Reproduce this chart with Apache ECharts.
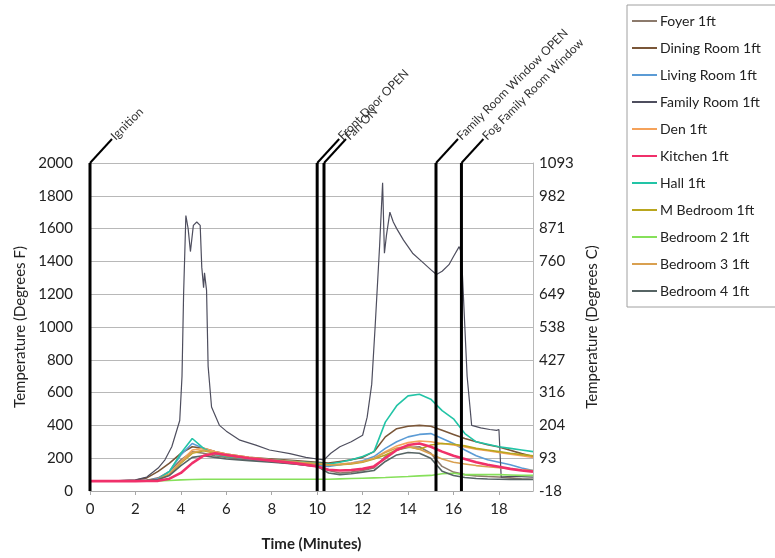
<!DOCTYPE html>
<html>
<head>
<meta charset="utf-8">
<script src="https://cdn.jsdelivr.net/npm/echarts@6/dist/echarts.min.js"></script>
<style>html,body{margin:0;padding:0;background:#fff;}#c{width:775px;height:558px;}</style>
</head>
<body>
<div id="c"></div>
<script>
// ---------- DATA ----------
const minutes = [0,1,2,2.5,3,3.5,4,4.5,5,5.5,6,7,8,9,10,10.5,11,11.5,12,12.5,13,13.5,14,14.5,15,15.5,16,16.5,17,17.5,18,18.5,19,19.5];

const foyer     = [60,60,62,65,80,120,190,240,230,215,205,190,180,165,150,125,110,115,125,140,210,250,265,270,230,150,115,100,92,88,85,80,75,72];
const dining    = [60,60,65,80,120,170,230,270,260,240,225,205,195,185,175,170,180,190,205,240,330,380,395,400,395,370,345,320,300,282,268,248,228,210];
const living    = [60,60,62,65,75,120,220,290,260,230,215,195,180,170,155,150,160,170,185,210,260,300,330,345,350,320,290,250,215,190,175,160,140,125];
const den       = [60,60,62,64,70,100,180,250,260,240,225,205,190,180,165,160,165,170,180,200,240,275,295,305,300,290,280,268,255,245,235,225,215,205];
const kitchen   = [60,60,60,61,62,75,110,170,215,230,220,200,185,170,150,130,125,128,135,150,200,250,280,290,270,240,215,195,175,160,148,135,125,118];
const hall      = [60,60,62,64,70,120,230,320,260,225,210,200,190,180,170,165,175,190,210,240,420,520,580,590,560,490,440,350,300,285,270,260,250,240];
const mBedroom  = [60,60,62,64,68,100,170,230,245,230,215,200,185,175,165,160,160,165,175,195,220,250,270,255,280,290,285,275,260,250,240,230,222,215];
const bedroom2  = [60,60,60,61,62,64,68,70,72,72,72,72,72,72,72,72,74,76,78,80,82,85,88,92,95,105,108,100,100,100,100,98,95,95];
const bedroom3  = [60,60,62,64,70,105,175,235,250,235,220,200,188,178,168,160,162,168,178,200,235,262,272,255,225,195,175,165,155,148,142,136,130,125];
const bedroom4  = [60,60,62,65,70,95,155,205,215,205,195,185,175,165,150,110,100,105,115,125,180,220,235,230,200,120,95,82,76,73,72,71,70,70];

const familyMinutes = [0,1,2,2.5,3,3.3,3.6,3.95,4.05,4.12,4.22,4.32,4.42,4.55,4.7,4.85,4.92,5.0,5.04,5.13,5.2,5.35,5.7,6,6.6,7.3,7.9,8.8,9.5,10,10.3,10.6,11,11.5,12,12.2,12.4,12.55,12.75,12.88,12.96,13.05,13.2,13.35,13.5,13.8,14.2,14.6,15.0,15.25,15.5,15.8,16.0,16.25,16.35,16.6,16.8,17.2,17.6,17.9,18.0,18.1,18.5,19,19.5];
const familyRoom    = [62,62,68,85,140,190,270,430,700,1200,1680,1600,1460,1620,1640,1620,1365,1240,1330,1225,760,512,400,365,310,280,250,228,205,195,190,230,270,300,340,450,650,1000,1500,1880,1450,1560,1700,1640,1600,1530,1450,1400,1350,1320,1340,1380,1430,1490,1450,700,400,385,375,370,375,85,90,88,85];

const seriesNames = ['Foyer 1ft','Dining Room 1ft','Living Room 1ft','Family Room 1ft','Den 1ft','Kitchen 1ft','Hall 1ft','M Bedroom 1ft','Bedroom 2 1ft','Bedroom 3 1ft','Bedroom 4 1ft'];
const seriesColors = ['#8c7a6c','#7a5638','#5b9bd5','#4e4e5e','#f5a25a','#f0306a','#22c4a6','#b9a61e','#86e05a','#d9a050','#566464'];

const eventMinutes = [0, 10, 10.3, 15.23, 16.35];
const eventLabels  = ['Ignition','Front Door OPEN','Fan ON','Family Room Window OPEN','Fog Family Room Window'];

const yTicksF = [0,200,400,600,800,1000,1200,1400,1600,1800,2000];
const xTicks  = [0,2,4,6,8,10,12,14,16,18];

// ---------- CHART ----------
const FONT = 'Lato, "Open Sans", sans-serif';
const pair = (xs, ys) => xs.map((x, i) => [x, ys[i]]);
const valueSets = [foyer, dining, living, familyRoom, den, kitchen, hall, mBedroom, bedroom2, bedroom3, bedroom4];

const lineSeries = seriesNames.map((name, i) => ({
  name: name,
  type: 'line',
  showSymbol: false,
  symbol: 'none',
  z: name === 'Kitchen 1ft' ? 4 : 3,
  data: name === 'Family Room 1ft' ? pair(familyMinutes, familyRoom) : pair(minutes, valueSets[i]),
  lineStyle: { width: name === 'Kitchen 1ft' ? 2.6 : (name === 'Family Room 1ft' ? 1.2 : 1.6), color: seriesColors[i] },
  itemStyle: { color: seriesColors[i] },
  animation: false
}));

const eventSeries = {
  type: 'custom',
  name: 'events',
  silent: true,
  clip: false,
  z: 10,
  animation: false,
  data: eventMinutes.map((t, i) => [t, i]),
  encode: { x: 0 },
  renderItem: function (params, api) {
    const idx = api.value(1);
    const x = api.coord([api.value(0), 0])[0];
    const yBottom = api.coord([0, 0])[1];
    const yTop = api.coord([0, 2000])[1];
    const dx = 22, dy = 24;
    return {
      type: 'group',
      children: [
        { type: 'polyline', shape: { points: [[x, yBottom], [x, yTop]] }, style: { stroke: '#000', lineWidth: 3, fill: null } },
        { type: 'polyline', shape: { points: [[x, yTop], [x + dx, yTop - dy]] }, style: { stroke: '#000', lineWidth: 2, fill: null } },
        { type: 'text', x: x + dx + 1, y: yTop - dy - 1, rotation: Math.PI / 4,
          style: { text: eventLabels[idx], fontSize: 12, fontFamily: FONT, fill: '#333', align: 'left', verticalAlign: 'middle' } }
      ]
    };
  }
};

const chart = echarts.init(document.getElementById('c'), null, { renderer: 'canvas' });
chart.setOption({
  backgroundColor: '#fff',
  textStyle: { fontFamily: FONT },
  grid: { left: 90, right: 242, top: 163, bottom: 67, containLabel: false },
  legend: {
    orient: 'vertical',
    left: 627, top: 5,
    padding: [8, 30, 8, 5],
    itemGap: 11,
    itemWidth: 25, itemHeight: 2,
    icon: 'rect',
    borderColor: '#a0a0a0', borderWidth: 1,
    backgroundColor: '#fff',
    textStyle: { fontSize: 14, color: '#222', fontFamily: FONT, lineHeight: 16, padding: [0, 0, 0, -2] },
    data: seriesNames
  },
  xAxis: {
    type: 'value', min: 0, max: 19.5, interval: 2,
    name: 'Time (Minutes)', nameLocation: 'middle', nameGap: 46,
    nameTextStyle: { fontSize: 15, fontWeight: 'bold', color: '#222', fontFamily: FONT },
    axisLine: { show: true, onZero: false, lineStyle: { color: '#a8a8a8', width: 1 } },
    axisTick: { show: true, length: 4, inside: false, lineStyle: { color: '#a8a8a8' } },
    axisLabel: { fontSize: 15, color: '#222', margin: 11, showMaxLabel: false,
      formatter: v => (xTicks.indexOf(v) >= 0 ? String(v) : '') },
    splitLine: { show: false }
  },
  yAxis: [
    {
      type: 'value', min: 0, max: 2000, interval: 200, position: 'left',
      name: 'Temperature (Degrees F)', nameLocation: 'middle', nameGap: 62,
      nameTextStyle: { fontSize: 15, color: '#222', fontFamily: FONT },
      axisLine: { show: false }, axisTick: { show: false },
      axisLabel: { fontSize: 15, color: '#222', margin: 17,
        formatter: v => (yTicksF.indexOf(v) >= 0 ? String(v) : '') },
      splitLine: { show: true, lineStyle: { color: '#b8b8b8', width: 1 } }
    },
    {
      type: 'value', min: 0, max: 2000, interval: 200, position: 'right',
      name: 'Temperature (Degrees C)', nameLocation: 'middle', nameGap: 52,
      nameTextStyle: { fontSize: 15, color: '#222', fontFamily: FONT },
      axisLine: { show: true, lineStyle: { color: '#b8b8b8', width: 1 } }, axisTick: { show: false },
      axisLabel: { fontSize: 15, color: '#222', margin: 6,
        formatter: v => String(Math.round((v - 32) * 5 / 9)) },
      splitLine: { show: false }
    }
  ],
  series: lineSeries.concat([eventSeries])
});
</script>
</body>
</html>
